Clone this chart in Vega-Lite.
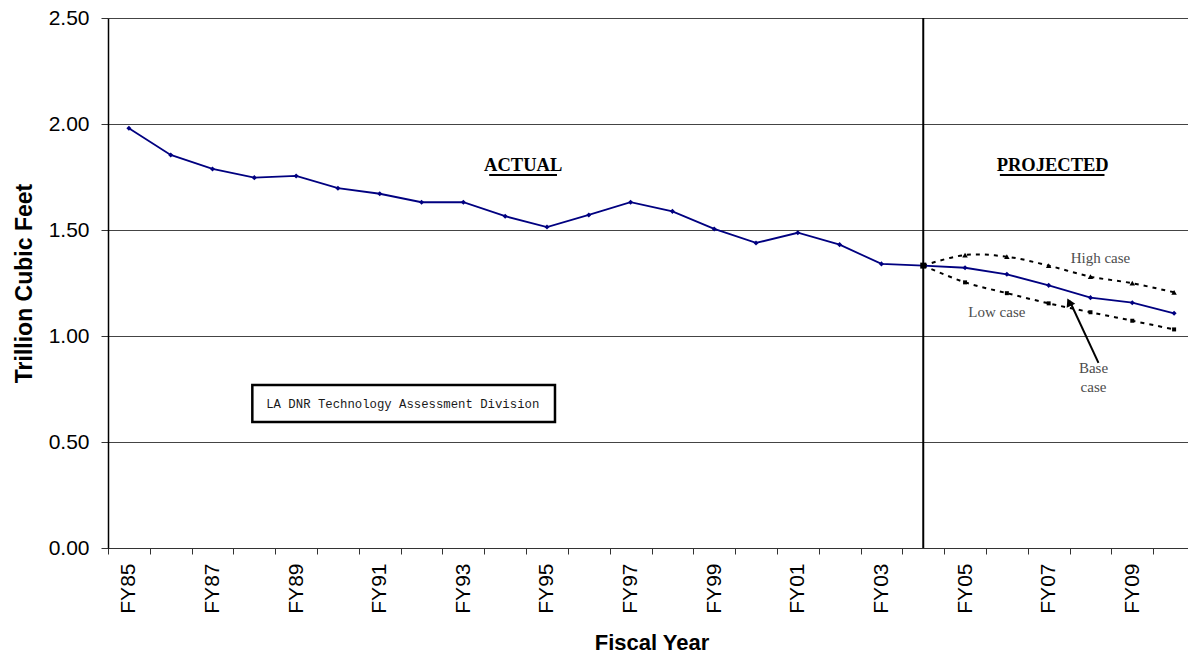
{
  "$schema": "https://vega.github.io/schema/vega-lite/v6.json",
  "width": 1080,
  "height": 530,
  "autosize": {"type": "none"},
  "padding": {"left": 108, "top": 18, "right": 0, "bottom": 108},
  "background": "white",
  "config": {"view": {"stroke": null}},
  "encoding": {
    "x": {
      "field": "year",
      "type": "ordinal",
      "scale": {
        "domain": ["FY85","FY86","FY87","FY88","FY89","FY90","FY91","FY92","FY93","FY94","FY95","FY96","FY97","FY98","FY99","FY00","FY01","FY02","FY03","FY04","FY05","FY06","FY07","FY08","FY09","FY10"],
        "range": [0, 1087],
        "paddingInner": 0,
        "paddingOuter": 0
      },
      "axis": {
        "title": "Fiscal Year",
        "labelAngle": -90,
        "labelExpr": "toNumber(substring(datum.value, 2)) % 2 == 1 ? datum.value : ''",
        "labelOverlap": false,
        "tickBand": "extent",
        "tickSize": 6,
        "tickColor": "#333333",
        "domainColor": "#333333",
        "labelPadding": 9,
        "labelFont": "Liberation Sans",
        "labelFontSize": 21,
        "labelColor": "black",
        "titleFont": "Liberation Sans",
        "titleFontSize": 22,
        "titleFontWeight": "bold",
        "titleColor": "black",
        "titlePadding": 19,
        "grid": false
      }
    },
    "y": {
      "field": "value",
      "type": "quantitative",
      "scale": {"domain": [0, 2.5], "nice": false, "zero": true},
      "axis": {
        "title": "Trillion Cubic Feet",
        "values": [0, 0.5, 1, 1.5, 2, 2.5],
        "format": ".2f",
        "grid": true,
        "gridColor": "#444444",
        "gridWidth": 1,
        "gridOpacity": 1,
        "domainColor": "black",
        "domainWidth": 1.5,
        "tickColor": "#333333",
        "tickSize": 7,
        "labelPadding": 12,
        "labelFont": "Liberation Sans",
        "labelFontSize": 21,
        "labelColor": "black",
        "titleFont": "Liberation Sans",
        "titleFontSize": 23,
        "titleFontWeight": "bold",
        "titleColor": "black",
        "titlePadding": 12
      }
    }
  },
  "layer": [
    {
      "data": {"values": [
        {"year": "FY04", "series": "High", "value": 1.332},
        {"year": "FY05", "series": "High", "value": 1.382},
        {"year": "FY06", "series": "High", "value": 1.374},
        {"year": "FY07", "series": "High", "value": 1.332},
        {"year": "FY08", "series": "High", "value": 1.280},
        {"year": "FY09", "series": "High", "value": 1.249},
        {"year": "FY10", "series": "High", "value": 1.206},
        {"year": "FY04", "series": "Low", "value": 1.332},
        {"year": "FY05", "series": "Low", "value": 1.253},
        {"year": "FY06", "series": "Low", "value": 1.202},
        {"year": "FY07", "series": "Low", "value": 1.154},
        {"year": "FY08", "series": "Low", "value": 1.112},
        {"year": "FY09", "series": "Low", "value": 1.072},
        {"year": "FY10", "series": "Low", "value": 1.031}
      ]},
      "layer": [
        {
          "mark": {"type": "line", "color": "black", "strokeWidth": 2, "strokeDash": [4, 5], "interpolate": "catmull-rom"},
          "encoding": {"detail": {"field": "series"}}
        },
        {
          "transform": [{"filter": "datum.series == 'High' && datum.year != 'FY04'"}],
          "mark": {"type": "point", "shape": "triangle-up", "filled": true, "color": "black", "size": 30, "opacity": 1}
        },
        {
          "transform": [{"filter": "datum.series == 'Low' && datum.year != 'FY04'"}],
          "mark": {"type": "point", "shape": "square", "filled": true, "color": "black", "size": 16, "opacity": 1}
        }
      ]
    },
    {
      "data": {"values": [{"year": "FY04", "value": 0, "value2": 2.5}]},
      "mark": {"type": "rule", "color": "black", "strokeWidth": 2},
      "encoding": {"y2": {"field": "value2"}}
    },
    {
      "data": {"values": [
        {"year": "FY85", "value": 1.980},
        {"year": "FY86", "value": 1.854},
        {"year": "FY87", "value": 1.788},
        {"year": "FY88", "value": 1.747},
        {"year": "FY89", "value": 1.755},
        {"year": "FY90", "value": 1.697},
        {"year": "FY91", "value": 1.671},
        {"year": "FY92", "value": 1.631},
        {"year": "FY93", "value": 1.631},
        {"year": "FY94", "value": 1.565},
        {"year": "FY95", "value": 1.514},
        {"year": "FY96", "value": 1.571},
        {"year": "FY97", "value": 1.631},
        {"year": "FY98", "value": 1.588},
        {"year": "FY99", "value": 1.505},
        {"year": "FY00", "value": 1.439},
        {"year": "FY01", "value": 1.487},
        {"year": "FY02", "value": 1.431},
        {"year": "FY03", "value": 1.340},
        {"year": "FY04", "value": 1.332},
        {"year": "FY05", "value": 1.322},
        {"year": "FY06", "value": 1.291},
        {"year": "FY07", "value": 1.239},
        {"year": "FY08", "value": 1.181},
        {"year": "FY09", "value": 1.157},
        {"year": "FY10", "value": 1.107}
      ]},
      "layer": [
        {
          "mark": {"type": "line", "color": "#000080", "strokeWidth": 1.8,
                   "point": {"shape": "diamond", "filled": true, "color": "#000080", "size": 26}}
        },
        {
          "transform": [{"filter": "datum.year == 'FY04'"}],
          "mark": {"type": "point", "shape": "square", "filled": true, "color": "black", "size": 36, "opacity": 1}
        }
      ]
    },
    {
      "data": {"values": [{"year": "FY94", "value": 1.780, "label": "ACTUAL"}]},
      "mark": {"type": "text", "font": "Liberation Serif", "fontWeight": "bold", "fontSize": 18.5, "color": "black", "align": "center", "baseline": "alphabetic", "dx": 18},
      "encoding": {"text": {"field": "label"}}
    },
    {
      "data": {"values": [{"year": "FY94", "year2": "FY95", "value": 1.759}]},
      "mark": {"type": "rule", "color": "black", "strokeWidth": 2, "xOffset": -16, "x2Offset": 10},
      "encoding": {"x2": {"field": "year2"}}
    },
    {
      "data": {"values": [{"year": "FY07", "value": 1.780, "label": "PROJECTED"}]},
      "mark": {"type": "text", "font": "Liberation Serif", "fontWeight": "bold", "fontSize": 18.5, "color": "black", "align": "center", "baseline": "alphabetic", "dx": 4},
      "encoding": {"text": {"field": "label"}}
    },
    {
      "data": {"values": [{"year": "FY06", "year2": "FY08", "value": 1.759}]},
      "mark": {"type": "rule", "color": "black", "strokeWidth": 2, "xOffset": -7, "x2Offset": 14},
      "encoding": {"x2": {"field": "year2"}}
    },
    {
      "data": {"values": [{"year": "FY08", "value": 1.344, "label": "High case"}]},
      "mark": {"type": "text", "font": "Liberation Serif", "fontSize": 15, "color": "#4d4d4d", "align": "center", "baseline": "alphabetic", "dx": 10},
      "encoding": {"text": {"field": "label"}}
    },
    {
      "data": {"values": [{"year": "FY06", "value": 1.088, "label": "Low case"}]},
      "mark": {"type": "text", "font": "Liberation Serif", "fontSize": 15, "color": "#4d4d4d", "align": "center", "baseline": "alphabetic", "dx": -10},
      "encoding": {"text": {"field": "label"}}
    },
    {
      "data": {"values": [
        {"year": "FY08", "value": 0.824, "label": "Base"},
        {"year": "FY08", "value": 0.734, "label": "case"}
      ]},
      "mark": {"type": "text", "font": "Liberation Serif", "fontSize": 15, "color": "#4d4d4d", "align": "center", "baseline": "alphabetic", "dx": 3},
      "encoding": {"text": {"field": "label"}}
    },
    {
      "data": {"values": [{"year": "FY08", "year2": "FY07", "value": 0.873, "value2": 1.165}]},
      "mark": {"type": "rule", "color": "black", "strokeWidth": 2, "xOffset": 8, "x2Offset": 21},
      "encoding": {"x2": {"field": "year2"}, "y2": {"field": "value2"}}
    },
    {
      "data": {"values": [{"year": "FY07", "value": 1.160}]},
      "mark": {"type": "point", "shape": "triangle-up", "filled": true, "color": "black", "size": 90, "angle": 334, "opacity": 1, "xOffset": 20.5}
    },
    {
      "data": {"values": [{"year": "FY88", "year2": "FY95", "value": 0.769, "value2": 0.594}]},
      "mark": {"type": "rect", "fill": "white", "stroke": "black", "strokeWidth": 2.5, "xOffset": -2, "x2Offset": 8},
      "encoding": {"x2": {"field": "year2"}, "y2": {"field": "value2"}}
    },
    {
      "data": {"values": [{"year": "FY91", "value": 0.659, "label": "LA DNR Technology Assessment Division"}]},
      "mark": {"type": "text", "font": "Liberation Mono", "fontSize": 12.3, "color": "#1a1a1a", "align": "center", "baseline": "alphabetic", "dx": 23},
      "encoding": {"text": {"field": "label"}}
    }
  ]
}
